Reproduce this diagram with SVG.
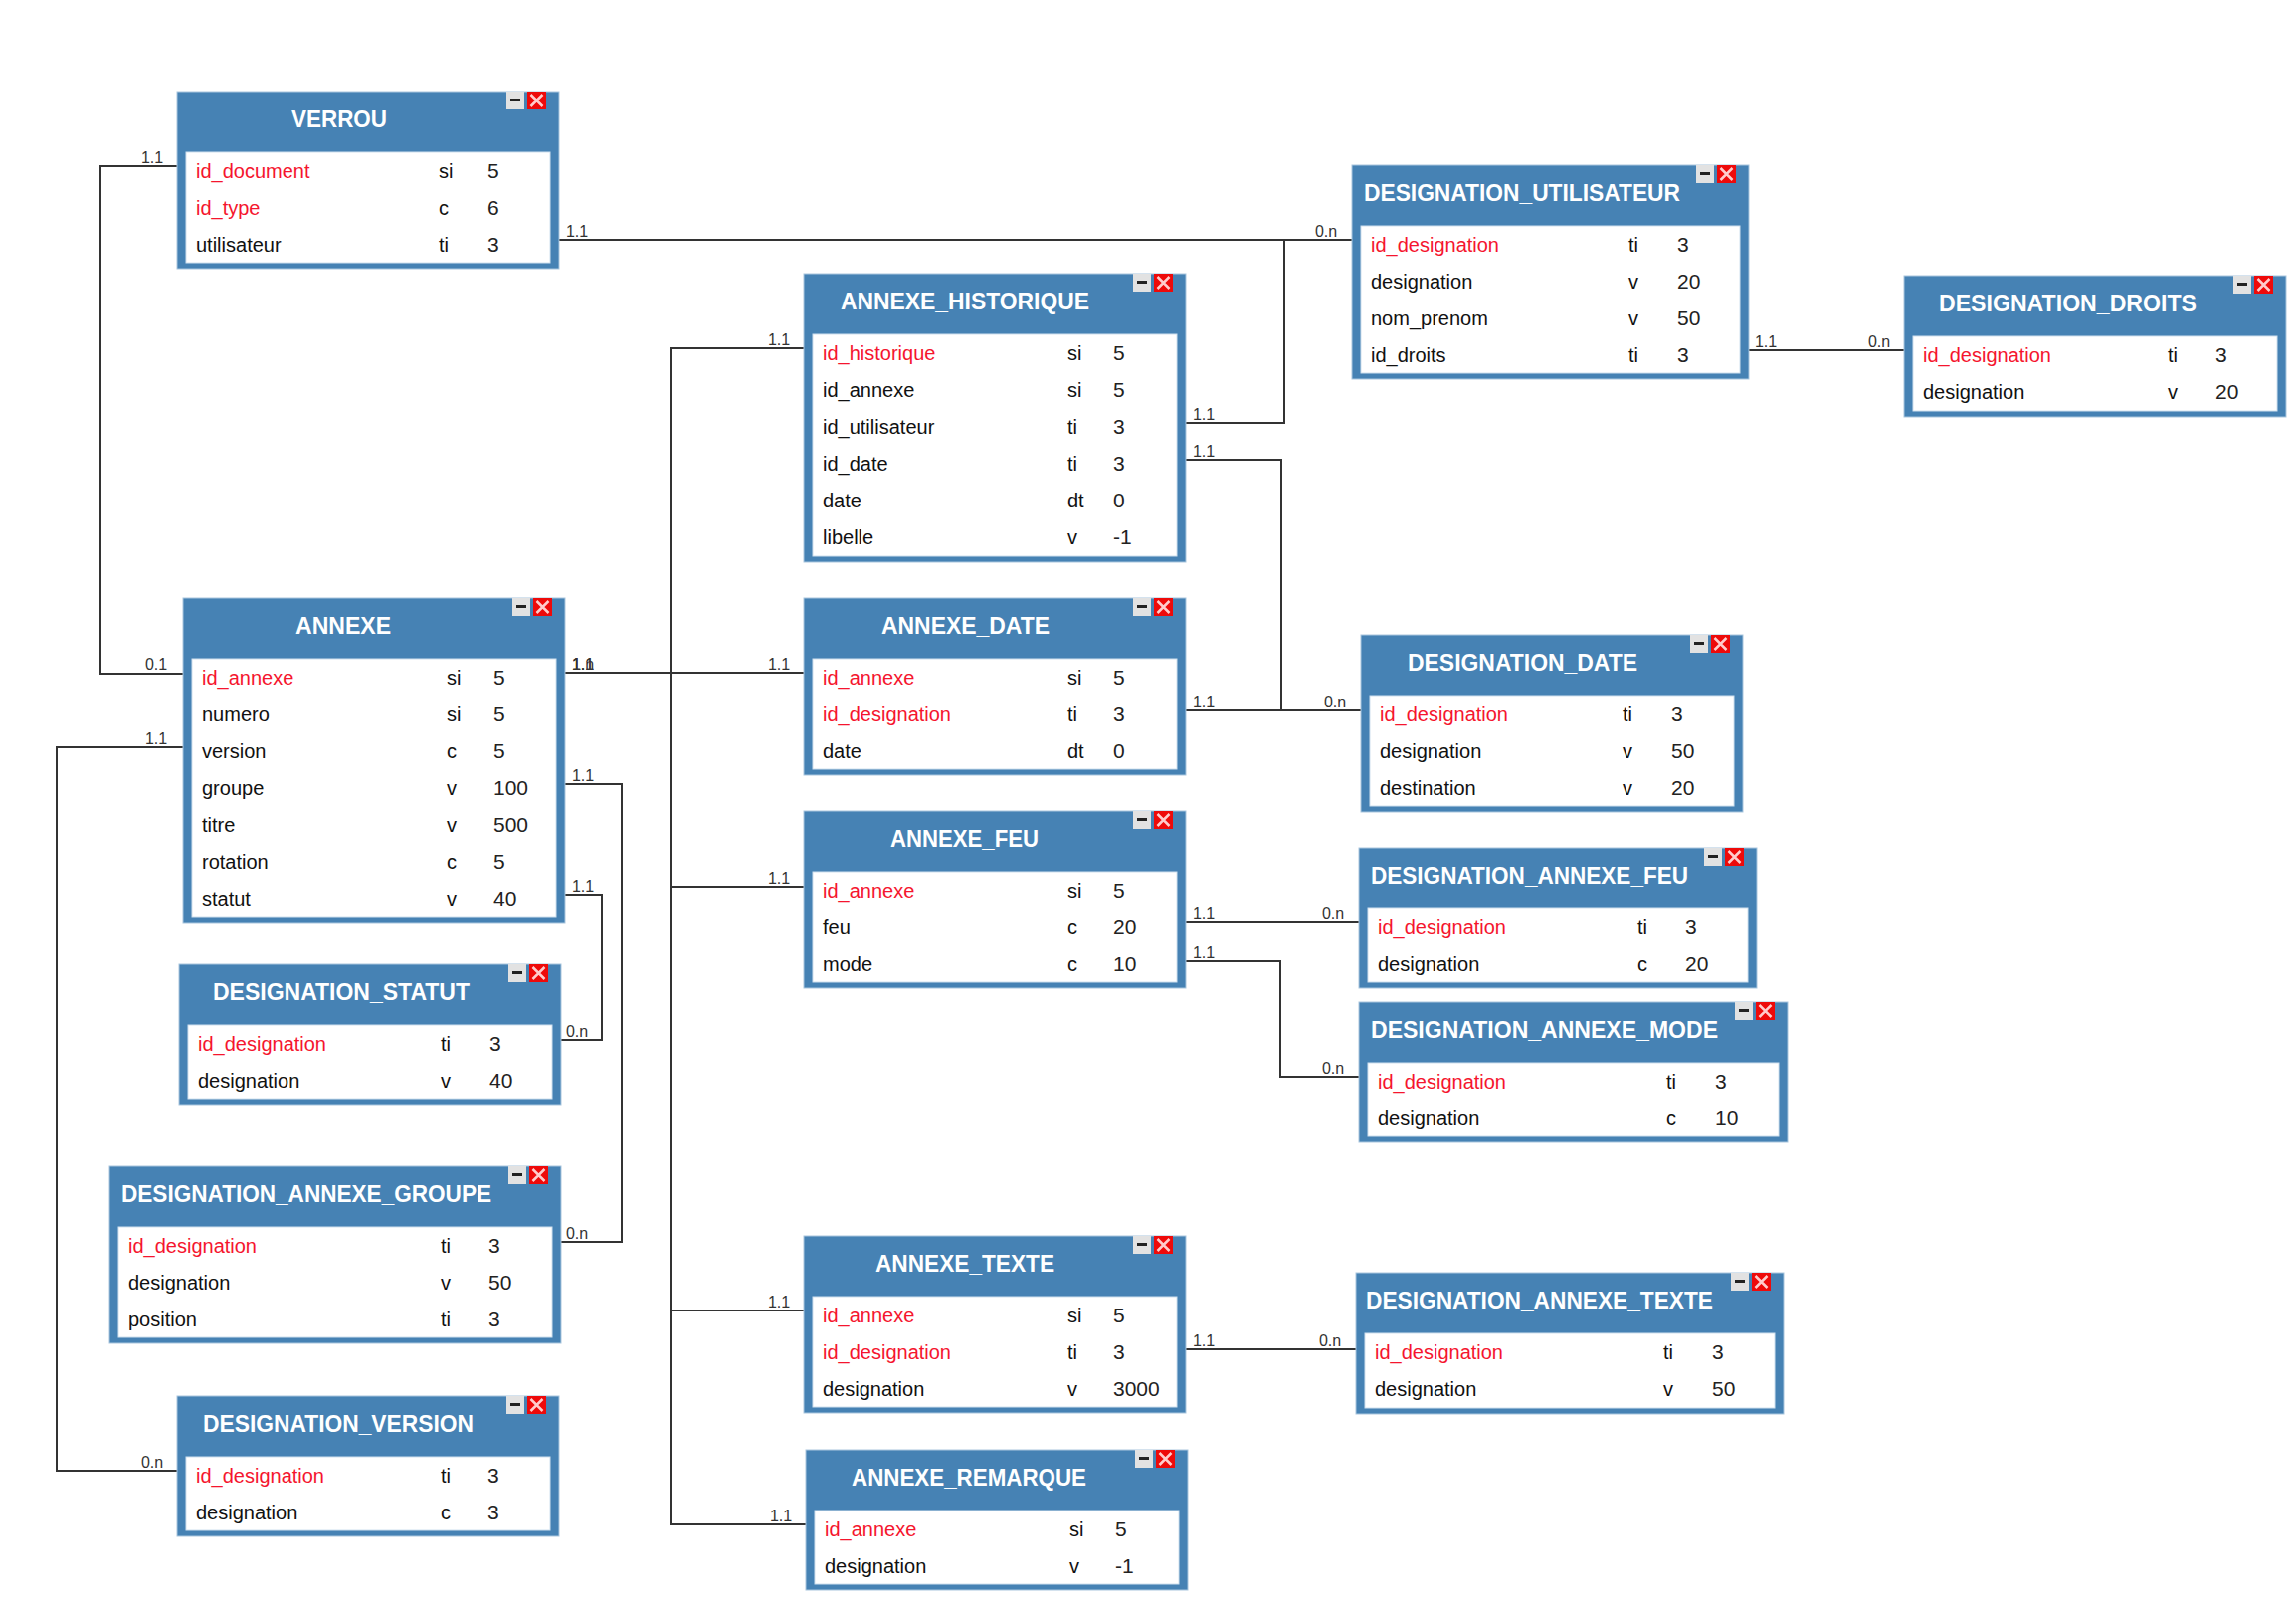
<svg xmlns="http://www.w3.org/2000/svg" width="2308" height="1620" viewBox="0 0 2308 1620">
<style>
text{font-family:"Liberation Sans",Arial,sans-serif}
.bg{fill:#4682b4;stroke:#a9c6de;stroke-width:1}
.in{fill:#fff;stroke:#cfe0ee;stroke-width:1}
.t{fill:#fff;font-size:24px;font-weight:700;transform:translateY(-.8px)}
.n,.s{font-size:20px;fill:#111;transform:translateY(1.3px)}
.s{font-size:21px;fill:#222}
.k{fill:#f5152e}
.c{fill:none;stroke:#333;stroke-width:2}
.l{font-size:16px;fill:#333;text-anchor:middle}
</style>
<defs>
<g id="btns">
<rect x="-53" y="0" width="18" height="18" fill="#e2e2e2"/>
<rect x="-49" y="7" width="10" height="3" fill="#222"/>
<rect x="-32" y="0" width="19" height="18" fill="#ee0a0a"/>
<path d="M-28.5 3L-16.5 15M-16.5 3L-28.5 15" stroke="#fcc" stroke-width="2.5" fill="none"/>
</g>
</defs>
<g id="connectors">
<path class="c" d="M178 167H101V677H184"/>
<path class="c" d="M562 241H1359"/>
<path class="c" d="M1192 425H1291V241"/>
<path class="c" d="M1192 462H1288V714"/>
<path class="c" d="M1192 714H1368"/>
<path class="c" d="M568 676H808"/>
<path class="c" d="M808 350H675V1532H810"/>
<path class="c" d="M675 891H808"/>
<path class="c" d="M675 1317H808"/>
<path class="c" d="M568 788H625V1248H564"/>
<path class="c" d="M568 899H605V1045H564"/>
<path class="c" d="M184 751H57V1478H178"/>
<path class="c" d="M1758 352H1914"/>
<path class="c" d="M1192 927H1366"/>
<path class="c" d="M1192 966H1287V1082H1366"/>
<path class="c" d="M1192 1356H1363"/>
<text class="l" x="153" y="164">1.1</text>
<text class="l" x="157" y="673">0.1</text>
<text class="l" x="580" y="238">1.1</text>
<text class="l" x="1333" y="238">0.n</text>
<text class="l" x="1210" y="422">1.1</text>
<text class="l" x="1210" y="459">1.1</text>
<text class="l" x="1210" y="711">1.1</text>
<text class="l" x="1342" y="711">0.n</text>
<text class="l" x="586" y="673">1.1</text>
<text class="l" x="586" y="673">1.1</text>
<text class="l" x="586" y="673">1.n</text>
<text class="l" x="783" y="347">1.1</text>
<text class="l" x="783" y="673">1.1</text>
<text class="l" x="783" y="888">1.1</text>
<text class="l" x="783" y="1314">1.1</text>
<text class="l" x="785" y="1529">1.1</text>
<text class="l" x="586" y="785">1.1</text>
<text class="l" x="586" y="896">1.1</text>
<text class="l" x="580" y="1245">0.n</text>
<text class="l" x="580" y="1042">0.n</text>
<text class="l" x="157" y="748">1.1</text>
<text class="l" x="153" y="1475">0.n</text>
<text class="l" x="1775" y="349">1.1</text>
<text class="l" x="1889" y="349">0.n</text>
<text class="l" x="1210" y="924">1.1</text>
<text class="l" x="1340" y="924">0.n</text>
<text class="l" x="1210" y="963">1.1</text>
<text class="l" x="1340" y="1079">0.n</text>
<text class="l" x="1210" y="1353">1.1</text>
<text class="l" x="1337" y="1353">0.n</text>
</g>
<g id="VERROU" transform="translate(178 92)">
<rect class="bg" width="384" height="178"/><rect class="in" x="9" y="61" width="366" height="111"/><use href="#btns" x="384"/>
<text class="t" x="115" y="37" textLength="96" lengthAdjust="spacingAndGlyphs">VERROU</text>
<text class="n k" x="19" y="86">id_document</text><text class="n" x="263" y="86">si</text><text class="s" x="312" y="86">5</text>
<text class="n k" x="19" y="123">id_type</text><text class="n" x="263" y="123">c</text><text class="s" x="312" y="123">6</text>
<text class="n" x="19" y="160">utilisateur</text><text class="n" x="263" y="160">ti</text><text class="s" x="312" y="160">3</text>
</g>
<g id="ANNEXE" transform="translate(184 601)">
<rect class="bg" width="384" height="327"/><rect class="in" x="9" y="61" width="366" height="260"/><use href="#btns" x="384"/>
<text class="t" x="113" y="37" textLength="96" lengthAdjust="spacingAndGlyphs">ANNEXE</text>
<text class="n k" x="19" y="86">id_annexe</text><text class="n" x="265" y="86">si</text><text class="s" x="312" y="86">5</text>
<text class="n" x="19" y="123">numero</text><text class="n" x="265" y="123">si</text><text class="s" x="312" y="123">5</text>
<text class="n" x="19" y="160">version</text><text class="n" x="265" y="160">c</text><text class="s" x="312" y="160">5</text>
<text class="n" x="19" y="197">groupe</text><text class="n" x="265" y="197">v</text><text class="s" x="312" y="197">100</text>
<text class="n" x="19" y="234">titre</text><text class="n" x="265" y="234">v</text><text class="s" x="312" y="234">500</text>
<text class="n" x="19" y="271">rotation</text><text class="n" x="265" y="271">c</text><text class="s" x="312" y="271">5</text>
<text class="n" x="19" y="308">statut</text><text class="n" x="265" y="308">v</text><text class="s" x="312" y="308">40</text>
</g>
<g id="DESIGNATION_STATUT" transform="translate(180 969)">
<rect class="bg" width="384" height="141"/><rect class="in" x="9" y="61" width="366" height="74"/><use href="#btns" x="384"/>
<text class="t" x="34" y="37" textLength="258" lengthAdjust="spacingAndGlyphs">DESIGNATION_STATUT</text>
<text class="n k" x="19" y="86">id_designation</text><text class="n" x="263" y="86">ti</text><text class="s" x="312" y="86">3</text>
<text class="n" x="19" y="123">designation</text><text class="n" x="263" y="123">v</text><text class="s" x="312" y="123">40</text>
</g>
<g id="DESIGNATION_ANNEXE_GROUPE" transform="translate(110 1172)">
<rect class="bg" width="454" height="178"/><rect class="in" x="9" y="61" width="436" height="111"/><use href="#btns" x="454"/>
<text class="t" x="12" y="37" textLength="372" lengthAdjust="spacingAndGlyphs">DESIGNATION_ANNEXE_GROUPE</text>
<text class="n k" x="19" y="86">id_designation</text><text class="n" x="333" y="86">ti</text><text class="s" x="381" y="86">3</text>
<text class="n" x="19" y="123">designation</text><text class="n" x="333" y="123">v</text><text class="s" x="381" y="123">50</text>
<text class="n" x="19" y="160">position</text><text class="n" x="333" y="160">ti</text><text class="s" x="381" y="160">3</text>
</g>
<g id="DESIGNATION_VERSION" transform="translate(178 1403)">
<rect class="bg" width="384" height="141"/><rect class="in" x="9" y="61" width="366" height="74"/><use href="#btns" x="384"/>
<text class="t" x="26" y="37" textLength="272" lengthAdjust="spacingAndGlyphs">DESIGNATION_VERSION</text>
<text class="n k" x="19" y="86">id_designation</text><text class="n" x="265" y="86">ti</text><text class="s" x="312" y="86">3</text>
<text class="n" x="19" y="123">designation</text><text class="n" x="265" y="123">c</text><text class="s" x="312" y="123">3</text>
</g>
<g id="ANNEXE_HISTORIQUE" transform="translate(808 275)">
<rect class="bg" width="384" height="290"/><rect class="in" x="9" y="61" width="366" height="223"/><use href="#btns" x="384"/>
<text class="t" x="37" y="37" textLength="250" lengthAdjust="spacingAndGlyphs">ANNEXE_HISTORIQUE</text>
<text class="n k" x="19" y="86">id_historique</text><text class="n" x="265" y="86">si</text><text class="s" x="311" y="86">5</text>
<text class="n" x="19" y="123">id_annexe</text><text class="n" x="265" y="123">si</text><text class="s" x="311" y="123">5</text>
<text class="n" x="19" y="160">id_utilisateur</text><text class="n" x="265" y="160">ti</text><text class="s" x="311" y="160">3</text>
<text class="n" x="19" y="197">id_date</text><text class="n" x="265" y="197">ti</text><text class="s" x="311" y="197">3</text>
<text class="n" x="19" y="234">date</text><text class="n" x="265" y="234">dt</text><text class="s" x="311" y="234">0</text>
<text class="n" x="19" y="271">libelle</text><text class="n" x="265" y="271">v</text><text class="s" x="311" y="271">-1</text>
</g>
<g id="ANNEXE_DATE" transform="translate(808 601)">
<rect class="bg" width="384" height="178"/><rect class="in" x="9" y="61" width="366" height="111"/><use href="#btns" x="384"/>
<text class="t" x="78" y="37" textLength="169" lengthAdjust="spacingAndGlyphs">ANNEXE_DATE</text>
<text class="n k" x="19" y="86">id_annexe</text><text class="n" x="265" y="86">si</text><text class="s" x="311" y="86">5</text>
<text class="n k" x="19" y="123">id_designation</text><text class="n" x="265" y="123">ti</text><text class="s" x="311" y="123">3</text>
<text class="n" x="19" y="160">date</text><text class="n" x="265" y="160">dt</text><text class="s" x="311" y="160">0</text>
</g>
<g id="ANNEXE_FEU" transform="translate(808 815)">
<rect class="bg" width="384" height="178"/><rect class="in" x="9" y="61" width="366" height="111"/><use href="#btns" x="384"/>
<text class="t" x="87" y="37" textLength="149" lengthAdjust="spacingAndGlyphs">ANNEXE_FEU</text>
<text class="n k" x="19" y="86">id_annexe</text><text class="n" x="265" y="86">si</text><text class="s" x="311" y="86">5</text>
<text class="n" x="19" y="123">feu</text><text class="n" x="265" y="123">c</text><text class="s" x="311" y="123">20</text>
<text class="n" x="19" y="160">mode</text><text class="n" x="265" y="160">c</text><text class="s" x="311" y="160">10</text>
</g>
<g id="ANNEXE_TEXTE" transform="translate(808 1242)">
<rect class="bg" width="384" height="178"/><rect class="in" x="9" y="61" width="366" height="111"/><use href="#btns" x="384"/>
<text class="t" x="72" y="37" textLength="180" lengthAdjust="spacingAndGlyphs">ANNEXE_TEXTE</text>
<text class="n k" x="19" y="86">id_annexe</text><text class="n" x="265" y="86">si</text><text class="s" x="311" y="86">5</text>
<text class="n k" x="19" y="123">id_designation</text><text class="n" x="265" y="123">ti</text><text class="s" x="311" y="123">3</text>
<text class="n" x="19" y="160">designation</text><text class="n" x="265" y="160">v</text><text class="s" x="311" y="160">3000</text>
</g>
<g id="ANNEXE_REMARQUE" transform="translate(810 1457)">
<rect class="bg" width="384" height="141"/><rect class="in" x="9" y="61" width="366" height="74"/><use href="#btns" x="384"/>
<text class="t" x="46" y="37" textLength="236" lengthAdjust="spacingAndGlyphs">ANNEXE_REMARQUE</text>
<text class="n k" x="19" y="86">id_annexe</text><text class="n" x="265" y="86">si</text><text class="s" x="311" y="86">5</text>
<text class="n" x="19" y="123">designation</text><text class="n" x="265" y="123">v</text><text class="s" x="311" y="123">-1</text>
</g>
<g id="DESIGNATION_UTILISATEUR" transform="translate(1359 166)">
<rect class="bg" width="399" height="215"/><rect class="in" x="9" y="61" width="381" height="148"/><use href="#btns" x="399"/>
<text class="t" x="12" y="37" textLength="318" lengthAdjust="spacingAndGlyphs">DESIGNATION_UTILISATEUR</text>
<text class="n k" x="19" y="86">id_designation</text><text class="n" x="278" y="86">ti</text><text class="s" x="327" y="86">3</text>
<text class="n" x="19" y="123">designation</text><text class="n" x="278" y="123">v</text><text class="s" x="327" y="123">20</text>
<text class="n" x="19" y="160">nom_prenom</text><text class="n" x="278" y="160">v</text><text class="s" x="327" y="160">50</text>
<text class="n" x="19" y="197">id_droits</text><text class="n" x="278" y="197">ti</text><text class="s" x="327" y="197">3</text>
</g>
<g id="DESIGNATION_DROITS" transform="translate(1914 277)">
<rect class="bg" width="384" height="142"/><rect class="in" x="9" y="61" width="366" height="75"/><use href="#btns" x="384"/>
<text class="t" x="35" y="37" textLength="259" lengthAdjust="spacingAndGlyphs">DESIGNATION_DROITS</text>
<text class="n k" x="19" y="86">id_designation</text><text class="n" x="265" y="86">ti</text><text class="s" x="313" y="86">3</text>
<text class="n" x="19" y="123">designation</text><text class="n" x="265" y="123">v</text><text class="s" x="313" y="123">20</text>
</g>
<g id="DESIGNATION_DATE" transform="translate(1368 638)">
<rect class="bg" width="384" height="178"/><rect class="in" x="9" y="61" width="366" height="111"/><use href="#btns" x="384"/>
<text class="t" x="47" y="37" textLength="231" lengthAdjust="spacingAndGlyphs">DESIGNATION_DATE</text>
<text class="n k" x="19" y="86">id_designation</text><text class="n" x="263" y="86">ti</text><text class="s" x="312" y="86">3</text>
<text class="n" x="19" y="123">designation</text><text class="n" x="263" y="123">v</text><text class="s" x="312" y="123">50</text>
<text class="n" x="19" y="160">destination</text><text class="n" x="263" y="160">v</text><text class="s" x="312" y="160">20</text>
</g>
<g id="DESIGNATION_ANNEXE_FEU" transform="translate(1366 852)">
<rect class="bg" width="400" height="141"/><rect class="in" x="9" y="61" width="382" height="74"/><use href="#btns" x="400"/>
<text class="t" x="12" y="37" textLength="319" lengthAdjust="spacingAndGlyphs">DESIGNATION_ANNEXE_FEU</text>
<text class="n k" x="19" y="86">id_designation</text><text class="n" x="280" y="86">ti</text><text class="s" x="328" y="86">3</text>
<text class="n" x="19" y="123">designation</text><text class="n" x="280" y="123">c</text><text class="s" x="328" y="123">20</text>
</g>
<g id="DESIGNATION_ANNEXE_MODE" transform="translate(1366 1007)">
<rect class="bg" width="431" height="141"/><rect class="in" x="9" y="61" width="413" height="74"/><use href="#btns" x="431"/>
<text class="t" x="12" y="37" textLength="349" lengthAdjust="spacingAndGlyphs">DESIGNATION_ANNEXE_MODE</text>
<text class="n k" x="19" y="86">id_designation</text><text class="n" x="309" y="86">ti</text><text class="s" x="358" y="86">3</text>
<text class="n" x="19" y="123">designation</text><text class="n" x="309" y="123">c</text><text class="s" x="358" y="123">10</text>
</g>
<g id="DESIGNATION_ANNEXE_TEXTE" transform="translate(1363 1279)">
<rect class="bg" width="430" height="142"/><rect class="in" x="9" y="61" width="412" height="75"/><use href="#btns" x="430"/>
<text class="t" x="10" y="37" textLength="349" lengthAdjust="spacingAndGlyphs">DESIGNATION_ANNEXE_TEXTE</text>
<text class="n k" x="19" y="86">id_designation</text><text class="n" x="309" y="86">ti</text><text class="s" x="358" y="86">3</text>
<text class="n" x="19" y="123">designation</text><text class="n" x="309" y="123">v</text><text class="s" x="358" y="123">50</text>
</g>
</svg>
